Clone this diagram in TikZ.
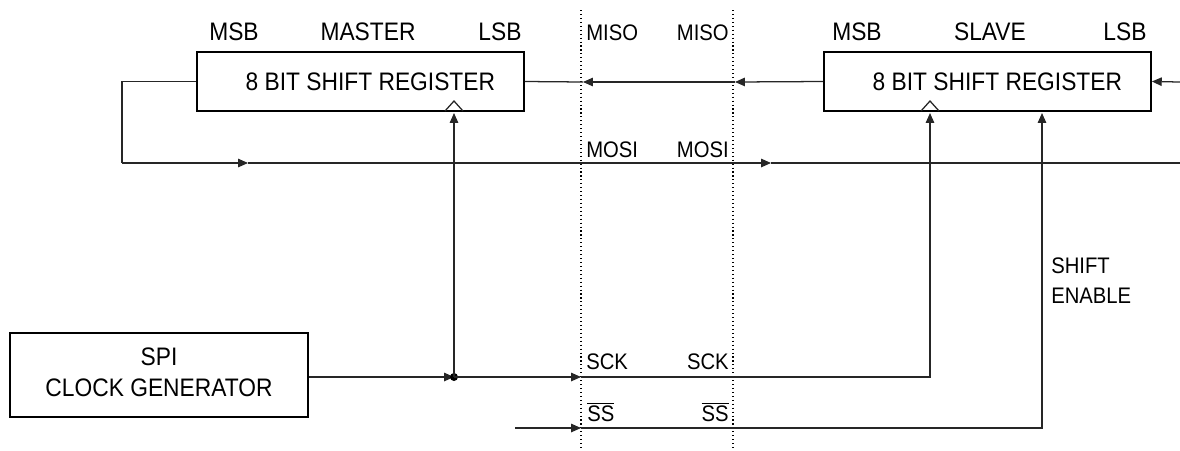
\documentclass[tikz,border=0pt]{standalone}
\usepackage{fontspec}
\setmainfont{Liberation Sans}[FakeStretch=0.9]
\usetikzlibrary{arrows.meta, positioning}

\tikzset{
  regbox/.style={draw, line width=1.2pt, minimum width=8.175cm, minimum height=1.475cm, font=\fontsize{18}{20}\selectfont},
  genbox/.style={draw, line width=1.2pt, minimum width=7.45cm, minimum height=2.1cm, font=\fontsize{18}{21.5}\selectfont},
  lbl/.style={inner sep=0pt, font=\fontsize{18}{20}\selectfont},
  sig/.style={inner sep=0pt, font=\fontsize{16}{18}\selectfont},
  wire/.style={line width=0.9pt, draw=black!85},
  tip/.style={wire, -{Triangle[length=7pt,width=6pt]}},
  border/.style={dotted, line width=0.8pt},
}

\begin{document}
\begin{tikzpicture}[x=0.025cm, y=-0.025cm]
    \useasboundingbox (0,0) rectangle (1180,450);

    % blocks
    \node[regbox] (master) at (360.5,81.5) {\hspace{14pt}8 BIT SHIFT REGISTER};
    \node[regbox] (slave) at (987.5,81.5) {\hspace{14pt}8 BIT SHIFT REGISTER};
    \node[genbox] (clkgen) at (159,375) {\raisebox{3pt}{\begin{tabular}{@{}c@{}}SPI\\CLOCK GENERATOR\end{tabular}}};

    % register headings
    \node[lbl] (mmsb) at (234,32) {MSB};
    \node[lbl] (mname) at (368,32) {MASTER};
    \node[lbl] (mlsb) at (500,32) {LSB};
    \node[lbl] (smsb) at (857,32) {MSB};
    \node[lbl] (sname) at (990,32) {SLAVE};
    \node[lbl] (slsb) at (1125,32) {LSB};

    % connector boundaries
    \coordinate (bndAtop) at (581,10);
    \coordinate (bndAbot) at (581,450);
    \coordinate (bndBtop) at (733,10);
    \coordinate (bndBbot) at (733,450);
    \draw[border] (bndAtop) -- (bndAbot);
    \draw[border] (bndBtop) -- (bndBbot);

    % pin names
    \node[sig, anchor=west] (misoL) at (586,33) {MISO};
    \node[sig, anchor=east] (misoR) at (729,33) {MISO};
    \node[sig, anchor=west] (mosiL) at (586,150) {MOSI};
    \node[sig, anchor=east] (mosiR) at (729,150) {MOSI};
    \node[sig, anchor=west] (sckL) at (586,362) {SCK};
    \node[sig, anchor=east] (sckR) at (729,362) {SCK};
    \node[sig, anchor=west] (ssL) at (587,412) {$\overline{\mbox{SS}}$};
    \node[sig, anchor=east] (ssR) at (729,412) {$\overline{\mbox{SS}}$};
    \node[sig, anchor=north west, align=left, font=\fontsize{16}{21}\selectfont] (shen) at (1051,258) {SHIFT\\ENABLE};

    % clock inputs
    \coordinate (mclk) at (454,111);
    \coordinate (sclk) at (930,111);
    \draw[wire] (mclk) ++(-9,0) -- ++(9,-10) -- ++(9,10);
    \draw[wire] (sclk) ++(-9,0) -- ++(9,-10) -- ++(9,10);
    \coordinate (mclkin) at (454,113);
    \coordinate (sclkin) at (930,113);
    \coordinate (senin) at (1042,113);

    % MISO
    \coordinate (misoB) at (735,82);
    \coordinate (misoA) at (583,82);
    \draw[tip] (slave.west) -- (misoB);
    \draw[tip] (misoB) -- (misoA);
    \draw[wire] (misoA) -- (master.east);

    % MOSI
    \coordinate (loop) at (122,163);
    \coordinate (mosiA) at (248,163);
    \coordinate (mosiB) at (771,163);
    \coordinate (mosiEnd) at (1180,163);
    \draw[wire] (master.west) -| (loop);
    \draw[tip] (loop) -- (mosiA);
    \draw[tip] (mosiA) -- (mosiB);
    \draw[wire] (mosiB) -- (mosiEnd);

    % slave serial in
    \coordinate (sin) at (1180,82);
    \draw[tip] (sin) -- (slave.east);

    % SCK
    \coordinate (jdot) at (454,377);
    \coordinate (sckA) at (581,377);
    \draw[tip] (clkgen.east |- jdot) -- (jdot);
    \fill (jdot) circle (4);
    \draw[tip] (jdot) -- (mclkin);
    \draw[tip] (jdot) -- (sckA);
    \draw[tip] (sckA) -| (sclkin);

    % SS
    \coordinate (ssin) at (515,428);
    \coordinate (ssA) at (581,428);
    \draw[tip] (ssin) -- (ssA);
    \draw[tip] (ssA) -| (senin);
\end{tikzpicture}
\end{document}
